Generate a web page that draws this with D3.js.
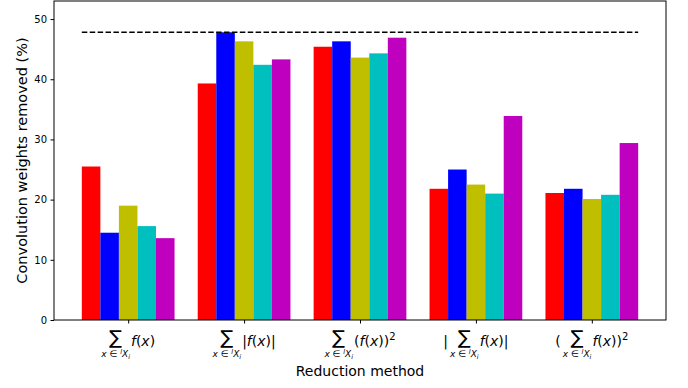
<!DOCTYPE html>
<html><head><meta charset="utf-8">
<script src="https://cdn.jsdelivr.net/npm/d3@7"></script>
<style>body{margin:0;background:#fff}svg{display:block}text{font-family:"DejaVu Sans",sans-serif}</style>
</head><body><svg id="c" width="688" height="388"></svg>
<script>
const categories = ["sum", "sumabs", "sumsq", "abssum", "sqsum"];
// label pieces: prefix, suffix (math rendered around the sum sign)
const labelPrefix = ["", "", "", "|", "("];
const labelSuffix = ["f(x)", "|f(x)|", "(f(x))²", "f(x)|", "f(x))²"];
const seriesNames = ["s1", "s2", "s3", "s4", "s5"];
const seriesColors = ["#ff0000", "#0000ff", "#bfbf00", "#00bfbf", "#bf00bf"];
const s1 = [25.5, 39.3, 45.4, 21.8, 21.1];
const s2 = [14.5, 47.8, 46.3, 25.0, 21.8];
const s3 = [19.0, 46.3, 43.6, 22.5, 20.1];
const s4 = [15.6, 42.4, 44.3, 21.0, 20.8];
const s5 = [13.6, 43.3, 46.9, 33.9, 29.4];
const refLine = 47.8;
const yTicks = [0, 10, 20, 30, 40, 50];

const series = [s1, s2, s3, s4, s5];
const svg = d3.select("#c");
const m = {l: 54, r: 666, t: 1, b: 320};
const x = d3.scaleLinear().domain([-0.64, 4.64]).range([m.l, m.r]);
const y = d3.scaleLinear().domain([0, 53]).range([m.b, m.t]);
const bw = 0.16;

const g = svg.append("g");
series.forEach((vals, si) => {
  g.selectAll(null).data(vals).enter().append("rect")
    .attr("x", (d, i) => x(i - 0.4 + si * bw))
    .attr("width", x(bw) - x(0))
    .attr("y", d => y(d))
    .attr("height", d => y(0) - y(d))
    .attr("fill", seriesColors[si]);
});

svg.append("line")
  .attr("x1", x(-0.4)).attr("x2", x(4.4))
  .attr("y1", y(refLine)).attr("y2", y(refLine))
  .attr("stroke", "#000").attr("stroke-width", 1.5)
  .attr("stroke-dasharray", "5.5,2.4");

// frame
svg.append("rect").attr("x", m.l).attr("y", m.t).attr("width", m.r - m.l).attr("height", m.b - m.t)
  .attr("fill", "none").attr("stroke", "#000").attr("stroke-width", 1);

// y axis
const ya = svg.append("g").attr("transform", `translate(${m.l},0)`)
  .call(d3.axisLeft(y).tickValues(yTicks).tickSize(3.5).tickPadding(3.5));
ya.select(".domain").remove();
ya.selectAll("text").attr("font-size", 10).attr("font-family", "DejaVu Sans").attr("fill", "#000");

// x axis ticks
const xa = svg.append("g").attr("transform", `translate(0,${m.b})`)
  .call(d3.axisBottom(x).tickValues(d3.range(categories.length)).tickSize(3.5).tickFormat(""));
xa.select(".domain").remove();

// math labels
categories.forEach((c, i) => {
  const lg = svg.append("g");
  const base = 346;
  let cur = 0;
  if (labelPrefix[i]) {
    const t = lg.append("text").attr("y", base).attr("font-size", 14).text(labelPrefix[i]);
    const w = t.node().getComputedTextLength();
    t.attr("x", cur); cur += w + 2;
  }
  const sumT = lg.append("text").attr("y", base - 2).attr("font-size", 19).attr("text-anchor", "middle").text("∑");
  const sub = lg.append("text").attr("y", base + 11).attr("font-size", 9).attr("text-anchor", "middle");
  sub.append("tspan").attr("font-style", "italic").text("x");
  sub.append("tspan").text(" ∈ ");
  sub.append("tspan").attr("font-style", "italic").attr("font-size", 6.5).attr("dy", -3).text("l");
  sub.append("tspan").attr("font-style", "italic").attr("dy", 3).text("X");
  sub.append("tspan").attr("font-style", "italic").attr("font-size", 6.5).attr("dy", 2).text("i");
  const sw = Math.max(sumT.node().getComputedTextLength(), sub.node().getComputedTextLength());
  sumT.attr("x", cur + sw / 2); sub.attr("x", cur + sw / 2);
  cur += sw + 1;
  const suf = lg.append("text").attr("y", base).attr("font-size", 14).attr("x", cur);
  const s = labelSuffix[i];
  let buf = "";
  const flush = () => { if (buf) { suf.append("tspan").text(buf); buf = ""; } };
  for (const ch of s) {
    if (ch === "f" || ch === "x") { flush(); suf.append("tspan").attr("font-style", "italic").text(ch); }
    else if (ch === "²") { flush(); suf.append("tspan").attr("font-size", 10).attr("dy", -6).text("2"); }
    else buf += ch;
  }
  flush();
  cur += suf.node().getComputedTextLength();
  lg.attr("transform", `translate(${x(i) - cur / 2},0)`);
});

svg.append("text").attr("x", (m.l + m.r) / 2).attr("y", 376).attr("text-anchor", "middle")
  .attr("font-size", 14).text("Reduction method");
svg.append("text").attr("transform", `translate(27,${(m.t + m.b) / 2}) rotate(-90)`)
  .attr("text-anchor", "middle").attr("font-size", 14.5).text("Convolution weights removed (%)");
</script></body></html>
